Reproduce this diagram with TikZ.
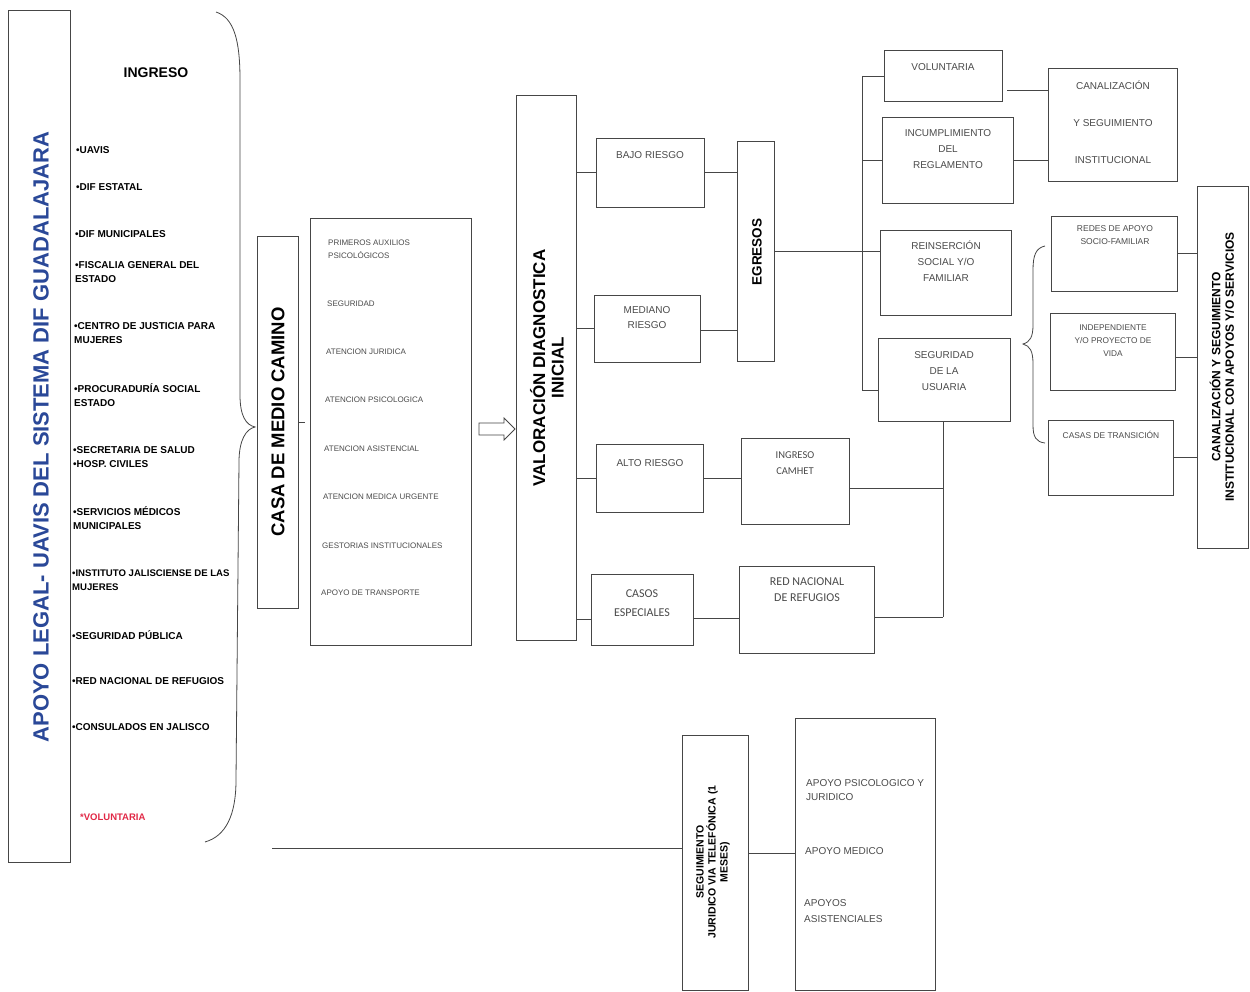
\documentclass[tikz,border=0pt]{standalone}
\usepackage{fontspec}
\setmainfont{Liberation Sans}
\newfontfamily\calib{Carlito}
\usetikzlibrary{shapes.arrows}
\definecolor{lineC}{RGB}{70,70,70}
\definecolor{blueT}{RGB}{42,72,152}
\definecolor{redT}{RGB}{225,40,70}
\definecolor{txtC}{RGB}{75,75,75}
\newcommand\bx[5]{\node[boxs, minimum width={#4-#2}, minimum height={#5-#3}] (#1) at ({(#2+#4)/2},{(#3+#5)/2}) {};}
\tikzset{
 boxs/.style={draw=lineC, line width=0.9pt, inner sep=0pt, outer sep=0pt},
 conn/.style={draw=lineC, line width=0.8pt},
 lst/.style={anchor=west, align=left, font=\bfseries\fontsize{10}{14}\selectfont, inner sep=0pt},
 svc/.style={anchor=west, align=left, text=txtC, font=\fontsize{8}{13}\selectfont, inner sep=0pt},
 btx/.style={align=center, text=txtC, font=\fontsize{10}{16}\selectfont, inner sep=0pt},
 ctx/.style={align=center, text=txtC, font=\calib\fontsize{12}{17}\selectfont, inner sep=0pt},
 vtx/.style={rotate=90, align=center, inner sep=0pt},
}
\begin{document}
\begin{tikzpicture}[x=1pt,y=-1pt]
\useasboundingbox[fill=white] (0,0) rectangle (1250,992);

% ---------------- left column
\bx{left}{8}{10}{70}{862}
\node[vtx, text=blueT, font=\bfseries\fontsize{22}{24}\selectfont] (leftT) at (41,437) {APOYO LEGAL- UAVIS DEL SISTEMA DIF GUADALAJARA};

\node[font=\bfseries\fontsize{14}{16}\selectfont, inner sep=0pt] (ingreso) at (156,73) {INGRESO};
\node[lst] (l1) at (76,150) {•UAVIS};
\node[lst] (l2) at (76,187) {•DIF ESTATAL};
\node[lst] (l3) at (75,234) {•DIF MUNICIPALES};
\node[lst] (l4) at (75,272) {•FISCALIA GENERAL DEL\\ESTADO};
\node[lst] (l5) at (74,333) {•CENTRO DE JUSTICIA PARA\\MUJERES};
\node[lst] (l6) at (74,395) {•PROCURADURÍA SOCIAL\\ESTADO};
\node[lst] (l7) at (73,457) {•SECRETARIA DE SALUD\\•HOSP. CIVILES};
\node[lst] (l8) at (73,518) {•SERVICIOS MÉDICOS\\MUNICIPALES};
\node[lst, font=\bfseries\fontsize{9.6}{14}\selectfont] (l9) at (72,580) {•INSTITUTO JALISCIENSE DE LAS\\MUJERES};
\node[lst] (l10) at (72,635) {•SEGURIDAD PÚBLICA};
\node[lst] (l11) at (72,681) {•RED NACIONAL DE REFUGIOS};
\node[lst] (l12) at (72,727) {•CONSULADOS EN JALISCO};
\node[lst, text=redT, font=\bfseries\fontsize{9.5}{12}\selectfont] (l13) at (80,817) {*VOLUNTARIA};

% big brace
\coordinate (brTip) at (255,427);
\draw[conn] (216,12) .. controls (234,18) and (240,40) .. (240,80) -- (240,395)
  .. controls (240,416) and (246,425) .. (brTip)
  .. controls (246,429) and (239,440) .. (239,462) -- (236,780)
  .. controls (236,815) and (226,836) .. (205,842);

% ---------------- casa de medio camino
\bx{casa}{257}{236}{298}{608}
\node[vtx, font=\bfseries\fontsize{18.5}{20}\selectfont] (casaT) at (278,422) {CASA DE MEDIO CAMINO};
\bx{serv}{310}{218}{471}{645}
\coordinate (dashEnd) at (305,422);
\draw[conn] (casa.east |- dashEnd) -- (dashEnd);
\node[svc] (s1) at (328,249) {PRIMEROS AUXILIOS\\PSICOLÓGICOS};
\node[svc] (s2) at (327,304) {SEGURIDAD};
\node[svc] (s3) at (326,352) {ATENCION JURIDICA};
\node[svc] (s4) at (325,400) {ATENCION PSICOLOGICA};
\node[svc] (s5) at (324,449) {ATENCION ASISTENCIAL};
\node[svc] (s6) at (323,497) {ATENCION MEDICA URGENTE};
\node[svc] (s7) at (322,546) {GESTORIAS INSTITUCIONALES};
\node[svc] (s8) at (321,593) {APOYO DE TRANSPORTE};

% hollow arrow
\node[single arrow, draw=lineC, line width=0.8pt, fill=white, minimum height=36pt, minimum width=22pt,
  single arrow head extend=5pt, inner sep=5.5pt] (arr) at (494,429) {};

% ---------------- valoracion
\bx{valor}{516}{95}{576}{640}
\node[vtx, font=\bfseries\fontsize{17}{18.5}\selectfont] (valorT) at (547,368) {VALORACIÓN DIAGNOSTICA\\INICIAL};

\bx{bajo}{596}{138}{704}{207}
\node[btx] (bajoT) at (650,155) {BAJO RIESGO};
\bx{med}{594}{295}{700}{362}
\node[btx, font=\fontsize{10}{15}\selectfont] (medT) at (647,318) {MEDIANO\\RIESGO};
\bx{alto}{596}{444}{703}{512}
\node[btx] (altoT) at (650,463) {ALTO RIESGO};
\bx{casos}{591}{574}{693}{645}
\node[ctx, font=\calib\fontsize{12}{19}\selectfont] (casosT) at (642,603) {CASOS\\ESPECIALES};

\bx{egr}{737}{141}{774}{361}
\node[vtx, font=\bfseries\fontsize{13.5}{15}\selectfont] (egrT) at (757,252) {EGRESOS};

\bx{camhet}{741}{438}{849}{524}
\node[ctx, font=\calib\fontsize{10.5}{16}\selectfont] (camhetT) at (795,463) {INGRESO\\CAMHET};
\bx{red}{739}{566}{874}{653}
\node[ctx, font=\calib\fontsize{12}{16}\selectfont] (redT) at (807,590) {RED NACIONAL\\DE REFUGIOS};

% connectors valoracion -> risk
\draw[conn] (valor.east |- bajo.west) -- (bajo.west);
\draw[conn] (valor.east |- med.west) -- (med.west);
\draw[conn] (valor.east |- alto.west) -- (alto.west);
\coordinate (casosL) at (576,619);
\draw[conn] (casosL) -- (casosL -| casos.west);
% risk -> egresos
\draw[conn] (bajo.east) -- (bajo.east -| egr.west);
\draw[conn] ([yshift=-2pt]med.east) -- ([yshift=-2pt]med.east -| egr.west);
\draw[conn] (alto.east) -- (alto.east -| camhet.west);
\coordinate (casosR) at (693,618);
\draw[conn] (casosR) -- (casosR -| red.west);

% ---------------- egresos branches
\bx{vol}{884}{50}{1002}{101}
\node[btx] (volT) at (943,67) {VOLUNTARIA};
\bx{inc}{882}{117}{1013}{203}
\node[btx] (incT) at (948,149) {INCUMPLIMIENTO\\DEL\\REGLAMENTO};
\bx{rein}{880}{230}{1011}{315}
\node[btx] (reinT) at (946,261) {REINSERCIÓN\\SOCIAL Y/O\\FAMILIAR};
\bx{seg}{878}{338}{1010}{421}
\node[btx] (segT) at (944,371) {SEGURIDAD\\DE LA\\USUARIA};

\coordinate (busT) at (862,76);
\coordinate (busB) at (862,390);
\draw[conn] (busT) -- (busB);
\draw[conn] (busT) -- (busT -| vol.west);
\draw[conn] (busT |- inc.west) -- (inc.west);
\draw[conn] (egr.east) -- (egr.east -| rein.west);
\draw[conn] (busB) -- (busB -| seg.west);

\bx{can}{1048}{68}{1177}{181}
\node[btx, font=\fontsize{10}{37}\selectfont] (canT) at (1113,122) {CANALIZACIÓN\\Y SEGUIMIENTO\\INSTITUCIONAL};
\coordinate (volR) at (1007,90);
\draw[conn] (volR) -- (volR -| can.west);
\draw[conn] (inc.east) -- (inc.east -| can.west);

% seguridad -> lower boxes
\coordinate (vEnd) at (943,617);
\draw[conn] (seg.south -| vEnd) -- (vEnd);
\draw[conn] ([yshift=-7pt]camhet.east) -- ([yshift=-7pt]camhet.east -| vEnd);
\draw[conn] ([yshift=-7.5pt]red.east) -- (vEnd);

% right brace and boxes
\draw[conn] (1045,246) .. controls (1036,248) and (1033,255) .. (1033,270) -- (1033,325)
  .. controls (1033,337) and (1030,342) .. (1023,344)
  .. controls (1030,346) and (1033,351) .. (1033,364) -- (1033,425)
  .. controls (1033,437) and (1036,442) .. (1045,443);

\bx{redes}{1051}{216}{1177}{291}
\node[btx, font=\fontsize{8.5}{13}\selectfont] (redesT) at (1115,235.5) {REDES DE APOYO\\SOCIO-FAMILIAR};
\bx{indep}{1050}{313}{1175}{390}
\node[btx, font=\fontsize{8.3}{13}\selectfont] (indepT) at (1113,341) {INDEPENDIENTE\\Y/O PROYECTO DE\\VIDA};
\bx{casas}{1048}{420}{1173}{495}
\node[btx, font=\fontsize{8.4}{13}\selectfont] (casasT) at (1111,435) {CASAS DE TRANSICIÓN};

\bx{big}{1197}{186}{1248}{548}
\node[vtx, font=\bfseries\fontsize{12}{13.5}\selectfont] (bigT) at (1222,367) {CANALIZACIÓN Y SEGUIMIENTO\\INSTITUCIONAL CON APOYOS Y/O SERVICIOS};
\draw[conn] (redes.east) -- (redes.east -| big.west);
\draw[conn] ([yshift=-5.5pt]indep.east) -- ([yshift=-5.5pt]indep.east -| big.west);
\draw[conn] (casas.east) -- (casas.east -| big.west);

% ---------------- bottom
\bx{segui}{682}{735}{748}{990}
\node[vtx, font=\bfseries\fontsize{10.5}{12}\selectfont] (seguiT) at (713,862) {SEGUIMIENTO\\JURIDICO VIA TELEFÓNICA (1\\MESES)};
\bx{apo}{795}{718}{935}{990}
\node[svc, font=\fontsize{10}{14}\selectfont] (a1) at (806,790) {APOYO PSICOLOGICO Y\\JURIDICO};
\node[svc, font=\fontsize{10}{14}\selectfont] (a2) at (805,851) {APOYO MEDICO};
\node[svc, font=\fontsize{10}{16}\selectfont] (a3) at (804,911) {APOYOS\\ASISTENCIALES};

\coordinate (botStart) at (272,848);
\draw[conn] (botStart) -- (botStart -| segui.west);
\coordinate (segR) at (748,853);
\draw[conn] (segR) -- (segR -| apo.west);
\end{tikzpicture}
\end{document}
